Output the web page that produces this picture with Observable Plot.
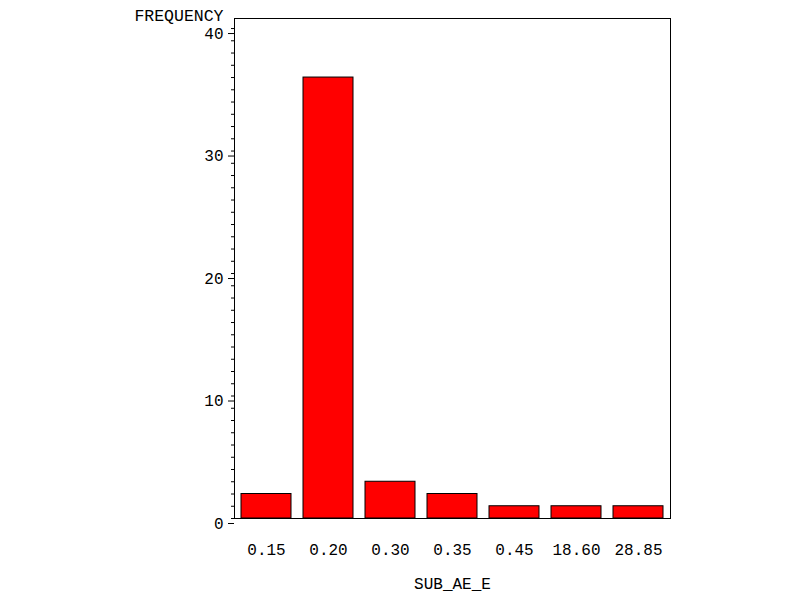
<!DOCTYPE html>
<html>
<head>
<meta charset="utf-8">
<script src="https://cdn.jsdelivr.net/npm/d3@7"></script>
<script src="https://cdn.jsdelivr.net/npm/@observablehq/plot@0.6"></script>
<style>
  html, body { margin: 0; padding: 0; background: #fff; }
  svg { display: block; }
</style>
</head>
<body>
<div id="chart"></div>
<script>
const categories = ["0.15", "0.20", "0.30", "0.35", "0.45", "18.60", "28.85"];
const frequencies = [2, 36, 3, 2, 1, 1, 1];
const majorTicks = [0, 10, 20, 30, 40];
const minorTicks = d3.range(0, 41, 1);
const yLabel = "FREQUENCY";
const xLabel = "SUB_AE_E";

const data = categories.map((c, i) => ({cat: c, freq: frequencies[i]}));
const font = "Liberation Mono, Courier New, monospace";

const chart = Plot.plot({
  width: 801,
  height: 601,
  marginLeft: 234,
  marginRight: 131,
  marginTop: 18,
  marginBottom: 83,
  style: {fontFamily: font, fontSize: "16px", color: "#000", background: "#fff"},
  x: {domain: categories, paddingInner: 0.2, paddingOuter: 0.1},
  y: {domain: [0, 40.82]},
  marks: [
    Plot.barY(data, {x: "cat", y: "freq", fill: "#ff0000", stroke: "#000", strokeWidth: 1}),
    Plot.frame({stroke: "#000", strokeWidth: 1}),
    Plot.axisY({ticks: minorTicks, tickSize: 3, text: null, label: null, strokeWidth: 1}),
    Plot.axisY({ticks: majorTicks, tickSize: 6, tickPadding: 5, dy: 5, label: null, strokeWidth: 1, fontSize: 16}),
    Plot.axisX({tickSize: 0, tickPadding: 25, label: null, fontSize: 16}),
    Plot.text([yLabel], {text: d => d, frameAnchor: "top-left", textAnchor: "end", dx: -11, dy: -9, fontSize: 16.5}),
    Plot.text([xLabel], {text: d => d, frameAnchor: "bottom", dy: 70, fontSize: 16})
  ]
});
document.getElementById("chart").appendChild(chart);
</script>
</body>
</html>
